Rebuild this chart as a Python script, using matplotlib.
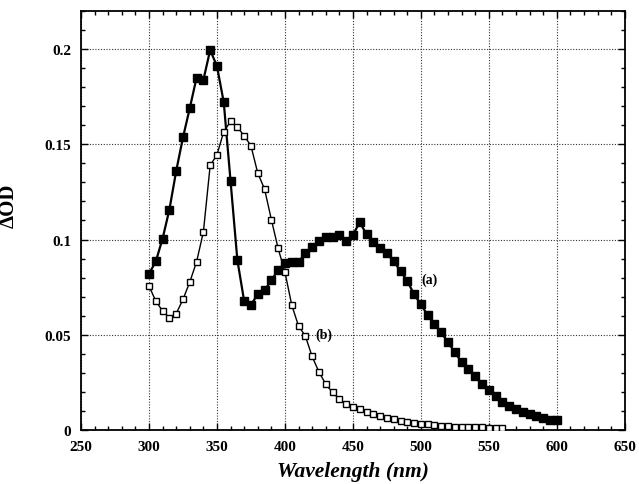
import numpy as np
import matplotlib
matplotlib.use("Agg")
import matplotlib.pyplot as plt
from matplotlib.ticker import MultipleLocator, FormatStrFormatter

# spectrum (a): filled squares, 300-600 nm every 5 nm
wl_a = np.arange(300, 601, 5)
od_a = [0.082, 0.0885, 0.1005, 0.1157, 0.136, 0.1536, 0.169, 0.185, 0.1838, 0.1995,
        0.191, 0.172, 0.1306, 0.0892, 0.0677, 0.0658, 0.0712, 0.0733, 0.0787, 0.0839,
        0.0878, 0.0883, 0.0883, 0.0927, 0.096, 0.099, 0.1012, 0.1012, 0.1026, 0.099,
        0.1025, 0.109, 0.1028, 0.0986, 0.0956, 0.0927, 0.0887, 0.0834, 0.0782, 0.0712,
        0.066, 0.0602, 0.0555, 0.0512, 0.046, 0.0408, 0.0356, 0.0318, 0.0282, 0.0243,
        0.0208, 0.0176, 0.0148, 0.0124, 0.011, 0.0096, 0.0084, 0.0072, 0.0061, 0.0054,
        0.0052]

# spectrum (b): open squares, 300-560 nm every 5 nm
wl_b = np.arange(300, 561, 5)
od_b = [0.0756, 0.0677, 0.0625, 0.059, 0.0611, 0.0686, 0.0777, 0.0883, 0.104, 0.1389,
        0.1445, 0.1567, 0.162, 0.159, 0.1545, 0.1492, 0.1349, 0.1265, 0.1105, 0.0953,
        0.0829, 0.0656, 0.0546, 0.0494, 0.0386, 0.0305, 0.0241, 0.0197, 0.0162, 0.0136,
        0.0122, 0.0108, 0.0094, 0.0084, 0.0072, 0.0063, 0.0056, 0.0048, 0.0042, 0.0037,
        0.0032, 0.0029, 0.0025, 0.0022, 0.002, 0.0018, 0.0017, 0.0016, 0.0015, 0.0014,
        0.0013, 0.0012, 0.0012]

plt.rcParams["font.family"] = "Liberation Serif"

fig = plt.figure(figsize=(6.39, 4.85), dpi=100)
ax = fig.add_axes([0.1268, 0.1113, 0.851, 0.864])

ax.plot(wl_a, od_a, color="black", lw=1.6, marker="s", ms=5.5,
        mfc="black", mec="black", zorder=3)
ax.plot(wl_b, od_b, color="black", lw=1.0, marker="s", ms=4.6,
        mfc="white", mec="black", mew=1.0, zorder=4)

ax.text(506, 0.079, "(a)", fontsize=10, fontweight="bold", ha="center", va="center")
ax.text(429, 0.0505, "(b)", fontsize=10, fontweight="bold", ha="center", va="center")

ax.set_xlim(250, 650)
ax.set_ylim(0, 0.22)
ax.xaxis.set_major_locator(MultipleLocator(50))
ax.xaxis.set_minor_locator(MultipleLocator(10))
ax.yaxis.set_major_locator(MultipleLocator(0.05))
ax.yaxis.set_minor_locator(MultipleLocator(0.01))
ax.yaxis.set_major_formatter(FormatStrFormatter("%g"))

ax.tick_params(which="both", direction="in", top=True, right=True,
               labelsize=11, width=1.0)
ax.tick_params(which="major", length=5, pad=7)
ax.tick_params(which="minor", length=3)
for lab in ax.get_xticklabels() + ax.get_yticklabels():
    lab.set_fontweight("bold")

ax.grid(True, which="major", linestyle=(0, (1, 1.5)), color="#333333", lw=0.8)
for s in ax.spines.values():
    s.set_linewidth(1.3)

ax.set_xlabel("Wavelength (nm)", fontsize=15.5, fontweight="bold", style="italic",
              va="center")
ax.xaxis.set_label_coords(0.5, -0.097)
ax.set_ylabel("ΔOD", fontsize=15, fontweight="bold")
ax.yaxis.set_label_coords(-0.114, 0.537)

fig.savefig("out.png", dpi=100)
